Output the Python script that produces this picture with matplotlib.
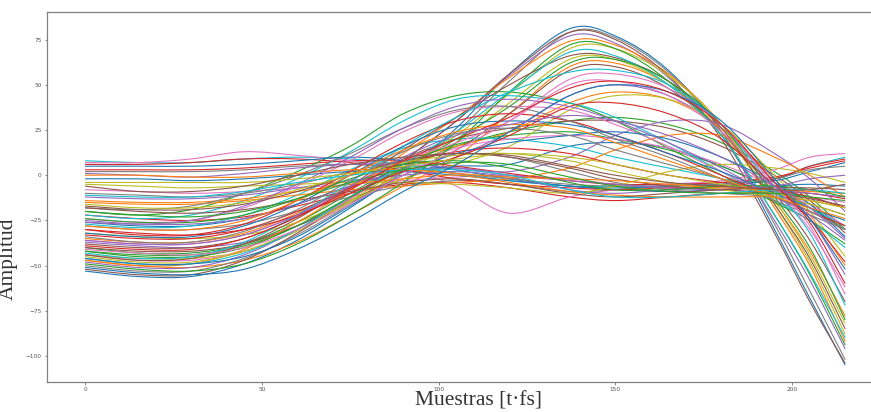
import numpy as np
from matplotlib import pyplot as plt
from matplotlib.path import Path
from matplotlib.patches import PathPatch

muestras = [0, 15, 30, 45, 60, 75, 90, 105, 120, 137, 150, 165, 180, 195, 205, 215]

# flat traces near the top on the left
planas = [
    [8, 7, 7, 9, 10, 9, 6, 1, -3, -6, -6, -5, -4, -2, 5, 10],
    [7, 7, 9, 13, 11, 8, 4, -6, -21, -12, -8, -5, -3, 3, 10, 12],
    [6, 6, 7, 9, 9, 7, 3, -2, -5, -7, -8, -7, -6, -2, 5, 9],
    [5, 5, 5, 6, 8, 10, 8, 3, -2, -6, -7, -6, -5, -3, 2, 7],
    [2, 2, 2, 3, 5, 6, 4, 1, -2, -5, -6, -6, -5, -2, 3, 5],
    [1, 0, -1, 1, 4, 6, 6, 4, 0, -3, -5, -7, -8, -6, -2, 0],
    [0, 0, -1, -1, 1, 3, 3, 1, -1, -2, -3, -5, -7, -8, -9, -10],
    [-4, -4, -4, -4, -2, 1, 5, 9, 12, 10, 6, 0, -5, -10, -14, -18],
    [-6, -9, -9, -6, 0, 6, 10, 12, 11, 5, 0, -4, -6, -8, -8, -5],
    [-8, -9, -10, -9, -7, -5, -3, -1, 0, -2, -5, -7, -8, -10, -12, -15],
    [3, 3, 3, 4, 6, 8, 8, 5, 1, -3, -5, -5, -4, -1, 4, 8],
    [-2, -2, -3, -2, 0, 2, 2, 0, -3, -6, -8, -9, -8, -6, -5, -6],
]

# lower-middle traces with a small hump
bajas = [
    [-10, -11, -12, -10, -5, 2, 8, 12, 10, 2, -4, -8, -10, -12, -16, -22],
    [-12, -13, -13, -11, -7, -3, 0, 2, -1, -8, -10, -8, -7, -8, -10, -12],
    [-14, -15, -15, -13, -9, -5, -2, 0, -4, -9, -11, -12, -12, -12, -14, -18],
    [-16, -18, -18, -15, -8, 0, 7, 11, 12, 8, 2, -4, -8, -12, -16, -22],
    [-18, -20, -21, -19, -14, -9, -4, -2, -5, -10, -12, -10, -8, -7, -7, -8],
    [-20, -22, -23, -20, -13, -4, 3, 7, 6, -1, -6, -9, -10, -10, -12, -14],
    [-22, -24, -25, -23, -17, -10, -5, -4, -7, -12, -14, -12, -10, -9, -10, -13],
    [-26, -28, -28, -24, -16, -6, 2, 5, 6, 16, 18, 15, 5, -8, -18, -30],
    [-28, -30, -30, -27, -20, -12, -6, -3, -5, -9, -8, -6, -6, -9, -12, -18],
    [-25, -27, -27, -24, -16, -6, 2, 4, 2, 10, 22, 30, 28, 12, -2, -20],
    [-15, -16, -16, -14, -11, -8, -6, -4, -2, 4, 14, 22, 22, 10, 0, -12],
    [-5, -6, -7, -6, -5, -4, -4, -5, -7, -10, -6, 2, 6, 4, 1, -4],
    [-17, -19, -19, -16, -9, 0, 8, 12, 10, 4, -2, -6, -8, -10, -13, -17],
    [-24, -26, -26, -22, -13, -2, 6, 8, 4, -4, -8, -8, -6, -6, -8, -12],
    [-11, -12, -12, -9, -4, 0, 3, 3, 0, -8, -12, -12, -10, -8, -8, -10],
]

# middle traces peaking around 100-120
medias = [
    [-20, -22, -19, -10, 2, 16, 34, 44, 46, 40, 30, 15, 0, -15, -25, -38],
    [-22, -24, -22, -14, -2, 13, 30, 42, 44, 40, 32, 18, 2, -14, -25, -40],
    [-24, -26, -25, -18, -6, 8, 24, 35, 38, 36, 28, 16, 2, -12, -20, -30],
    [-30, -33, -33, -27, -14, 2, 18, 30, 34, 30, 22, 12, 0, -12, -20, -28],
    [-32, -34, -34, -28, -16, 0, 16, 27, 30, 28, 22, 12, 2, -10, -18, -25],
    [-34, -37, -37, -31, -19, -3, 13, 23, 26, 22, 14, 6, -2, -12, -20, -30],
    [-36, -38, -38, -33, -22, -6, 10, 22, 28, 33, 30, 22, 10, -6, -18, -35],
    [-38, -40, -40, -35, -23, -7, 9, 20, 26, 30, 30, 26, 16, 0, -14, -32],
    [-40, -43, -43, -38, -26, -10, 6, 17, 22, 24, 20, 14, 5, -8, -18, -30],
    [-27, -29, -28, -22, -11, 3, 15, 20, 20, 16, 10, 4, -2, -10, -18, -28],
    [-44, -47, -47, -42, -30, -13, 4, 15, 20, 22, 20, 15, 6, -6, -16, -28],
    [-33, -35, -35, -30, -20, -7, 6, 13, 15, 12, 6, 0, -4, -8, -12, -18],
    [-46, -49, -49, -45, -34, -17, 0, 12, 18, 22, 24, 20, 10, -4, -16, -34],
    [-18, -19, -17, -10, 0, 12, 26, 36, 38, 30, 20, 10, -2, -14, -22, -30],
    [-26, -27, -25, -17, -5, 10, 26, 38, 42, 38, 30, 18, 4, -12, -22, -36],
    [-28, -30, -30, -25, -14, 0, 14, 24, 28, 26, 18, 8, -2, -12, -18, -24],
    [-42, -44, -44, -39, -28, -12, 4, 16, 24, 30, 32, 28, 18, 2, -12, -30],
]

# traces with the big peak near 137 and the steep drop at the end
picos = [
    [-53, -56, -56, -49, -36, -18, 2, 26, 56, 81, 77, 58, 24, -30, -68, -105],
    [-50, -53, -53, -46, -33, -16, 3, 24, 52, 79, 76, 57, 24, -27, -64, -102],
    [-48, -51, -51, -44, -30, -12, 8, 30, 55, 77, 73, 54, 22, -25, -58, -96],
    [-47, -50, -49, -41, -26, -8, 12, 32, 54, 74, 72, 56, 28, -18, -50, -92],
    [-45, -48, -48, -42, -30, -14, 4, 22, 45, 70, 70, 55, 28, -16, -48, -88],
    [-44, -47, -46, -38, -24, -6, 14, 32, 50, 66, 65, 52, 26, -16, -46, -85],
    [-42, -45, -45, -40, -28, -12, 4, 20, 38, 62, 64, 52, 28, -12, -40, -80],
    [-43, -46, -45, -37, -22, -4, 16, 32, 46, 57, 58, 50, 28, -8, -32, -72],
    [-41, -43, -44, -40, -30, -16, 0, 14, 30, 53, 56, 48, 28, -6, -28, -66],
    [-39, -41, -41, -35, -23, -8, 8, 20, 32, 48, 52, 46, 28, -4, -26, -60],
    [-37, -39, -40, -37, -28, -15, -2, 10, 24, 44, 50, 44, 26, -4, -24, -55],
    [-35, -37, -37, -32, -21, -6, 8, 16, 24, 40, 46, 42, 26, -2, -22, -50],
    [-32, -34, -35, -33, -26, -14, -2, 6, 16, 36, 44, 42, 28, 0, -20, -45],
    [-52, -55, -55, -47, -32, -13, 8, 30, 56, 79, 75, 55, 20, -32, -70, -104],
    [-49, -52, -53, -49, -38, -22, -4, 18, 46, 72, 70, 52, 22, -22, -55, -94],
    [-46, -49, -49, -43, -30, -12, 6, 24, 46, 68, 66, 50, 22, -22, -54, -90],
    [-36, -38, -38, -33, -22, -8, 8, 18, 30, 50, 52, 44, 24, -8, -30, -62],
    [-30, -32, -33, -30, -22, -10, 2, 10, 22, 38, 40, 34, 20, -6, -24, -48],
    [-51, -54, -55, -52, -41, -26, -9, 6, 24, 44, 50, 46, 30, -2, -24, -52],
    [-47, -50, -51, -47, -37, -22, -6, 10, 34, 60, 62, 50, 24, -14, -42, -78],
    [-44, -46, -46, -42, -31, -15, 2, 18, 40, 64, 64, 50, 24, -14, -44, -82],
    [-40, -42, -42, -38, -28, -14, 0, 14, 34, 58, 60, 48, 24, -10, -36, -70],
]


def curva(xs, ys):
    # smooth path through the read points (Catmull-Rom as cubic Bezier)
    p = np.column_stack([xs, ys]).astype(float)
    p = np.vstack([p[:1], p, p[-1:]])
    verts = [p[1]]
    codes = [Path.MOVETO]
    for i in range(1, len(p) - 2):
        c1 = p[i] + (p[i + 1] - p[i - 1]) / 6
        c2 = p[i + 1] - (p[i + 2] - p[i]) / 6
        verts += [c1, c2, p[i + 1]]
        codes += [Path.CURVE4] * 3
    return Path(verts, codes)


fig = plt.figure(figsize=(8.71, 4.12), dpi=100)
ax = fig.add_axes([0.054, 0.073, 0.96, 0.898])

colores = plt.rcParams['axes.prop_cycle'].by_key()['color']
trazas = picos + medias + planas + bajas
# mix the groups so the colours spread like in the original
orden = sorted(range(len(trazas)), key=lambda i: (i * 7) % len(trazas))
for n, i in enumerate(orden):
    ax.add_patch(PathPatch(curva(muestras, trazas[i]), fill=False,
                           edgecolor=colores[n % len(colores)], lw=0.8))

ax.set_xlim(-10.75, 225.75)
ax.set_ylim(-114.3, 90.3)
ax.set_xticks([0, 50, 100, 150, 200])
ax.set_yticks([-100, -75, -50, -25, 0, 25, 50, 75])
ax.tick_params(labelsize=4.2, length=1.8, width=0.5, colors='#555555', pad=2)
for s in ax.spines.values():
    s.set_color('#808080')
    s.set_linewidth(0.9)

ax.set_xlabel('Muestras [t·fs]', fontsize=15.5, family=['Liberation Serif', 'DejaVu Serif'], color='#333333')
ax.set_ylabel('Amplitud', fontsize=15.5, family=['Liberation Serif', 'DejaVu Serif'], color='#333333')
ax.xaxis.set_label_coords(0.516, -0.025)
ax.yaxis.set_label_coords(-0.035, 0.334)

plt.savefig('out.png', dpi=100)
plt.close()
